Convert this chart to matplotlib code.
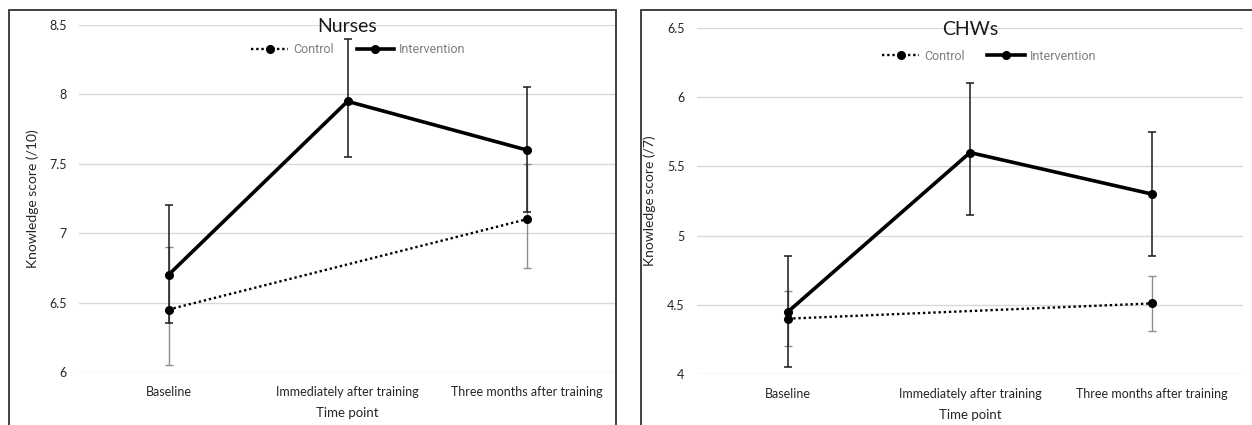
import matplotlib
matplotlib.use("Agg")
import matplotlib.pyplot as plt
from matplotlib.patches import Rectangle
from matplotlib.lines import Line2D

# data
time_points = ["Baseline", "Immediately after training", "Three months after training"]
ctrl_x = [0, 2]
int_x = [0, 1, 2]

nurse_ctrl = [6.45, 7.1]
nurse_ctrl_lo = [6.05, 6.75]
nurse_ctrl_hi = [6.9, 7.5]
nurse_int = [6.7, 7.95, 7.6]
nurse_int_lo = [6.35, 7.55, 7.15]
nurse_int_hi = [7.2, 8.4, 8.05]

chw_ctrl = [4.4, 4.51]
chw_ctrl_lo = [4.2, 4.31]
chw_ctrl_hi = [4.6, 4.71]
chw_int = [4.45, 5.6, 5.3]
chw_int_lo = [4.05, 5.15, 4.85]
chw_int_hi = [4.85, 6.1, 5.75]

plt.rcParams['font.family'] = ['Lato', 'DejaVu Sans']
W, H = 1252, 425
fig = plt.figure(figsize=(W / 100, H / 100), dpi=100, facecolor='white')

# panel frames
fig.patches.append(Rectangle((9 / W, -0.05), (616 - 9) / W, 1.05 - 10 / H, transform=fig.transFigure,
                             fill=False, edgecolor='#404040', lw=1.4))
fig.patches.append(Rectangle((641 / W, -0.05), 0.6, 1.05 - 10 / H, transform=fig.transFigure,
                             fill=False, edgecolor='#404040', lw=1.4))


def panel(rect, title, ylabel, ylim, yticks, ctrl, clo, chi, inter, ilo, ihi, leg_xy):
    ax = fig.add_axes(rect)
    # control: thin dotted line, grey error bars
    ax.errorbar(ctrl_x, ctrl,
                yerr=[[c - l for c, l in zip(ctrl, clo)], [h - c for c, h in zip(ctrl, chi)]],
                fmt='none', ecolor='#8c8c8c', elinewidth=1, capsize=3, capthick=1, zorder=2)
    ax.plot(ctrl_x, ctrl, color='black', ls=(0, (1, 1.2)), lw=1.7, marker='o', ms=5.5, zorder=4)
    # intervention: thick solid line, black error bars
    ax.errorbar(int_x, inter,
                yerr=[[v - l for v, l in zip(inter, ilo)], [h - v for v, h in zip(inter, ihi)]],
                fmt='none', ecolor='#1a1a1a', elinewidth=1.1, capsize=3, capthick=1.1, zorder=3)
    ax.plot(int_x, inter, color='black', lw=2.6, marker='o', ms=5.5, zorder=5)

    ax.set_xlim(-0.5, 2.5)
    ax.set_ylim(*ylim)
    ax.set_yticks(yticks)
    ax.set_yticklabels([f"{t:g}" for t in yticks])
    ax.set_xticks(int_x)
    ax.set_xticklabels(time_points)
    ax.grid(axis='y', color='#d9d9d9', lw=1)
    ax.set_axisbelow(True)
    for s in ax.spines.values():
        s.set_visible(False)
    ax.tick_params(length=0, labelsize=9, colors='#262626')
    ax.tick_params(axis='x', pad=10)
    ax.tick_params(axis='y', pad=9)
    ax.set_ylabel(ylabel, fontsize=10, color='#262626')
    ax.yaxis.set_label_coords(-0.075, 0.5)
    ax.set_xlabel("Time point", fontsize=9.5, color='#262626')
    ax.xaxis.set_label_coords(0.5, -0.1)
    ax.text(0.5, 0.995, title, transform=ax.transAxes, ha='center', va='center',
            fontsize=14, color='#1a1a1a', zorder=6)

    handles = [Line2D([], [], color='black', ls=(0, (1, 1.2)), lw=1.7, marker='o', ms=5.5),
               Line2D([], [], color='black', lw=2.6, marker='o', ms=5.5)]
    leg = ax.legend(handles, ["Control", "Intervention"], ncol=2, frameon=False,
                    loc='center', bbox_to_anchor=leg_xy,
                    handlelength=3, columnspacing=1.8, handletextpad=0.4,
                    prop={'family': ['Roboto', 'DejaVu Sans'], 'size': 9})
    for t in leg.get_texts():
        t.set_color('#7f7f7f')
    return ax


panel([79 / W, (H - 372) / H, (616 - 79) / W, 347 / H], "Nurses", "Knowledge score (/10)",
      (6, 8.5), [6, 6.5, 7, 7.5, 8, 8.5],
      nurse_ctrl, nurse_ctrl_lo, nurse_ctrl_hi, nurse_int, nurse_int_lo, nurse_int_hi, (0.52, 0.928))
panel([697 / W, (H - 374) / H, (1243 - 697) / W, 346 / H], "CHWs", "Knowledge score (/7)",
      (4, 6.5), [4, 4.5, 5, 5.5, 6, 6.5],
      chw_ctrl, chw_ctrl_lo, chw_ctrl_hi, chw_int, chw_int_lo, chw_int_hi, (0.535, 0.919))

fig.savefig("out.png", dpi=100)
